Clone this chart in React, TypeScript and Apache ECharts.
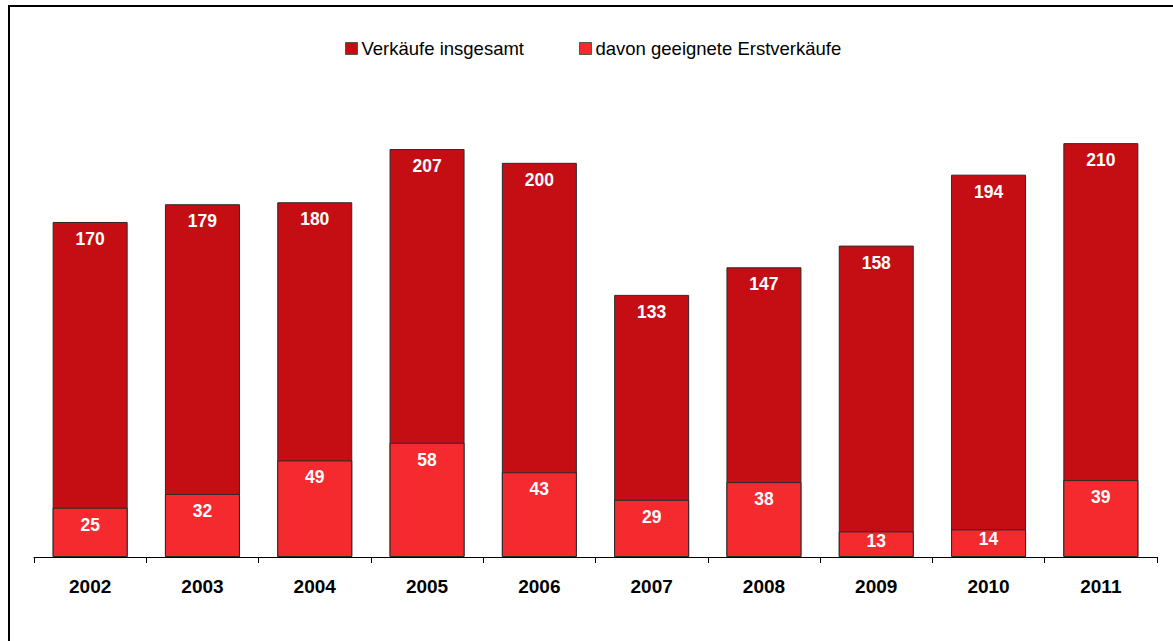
import React, { useEffect, useRef } from "react";
import * as echarts from "echarts";

const categories = ["2002", "2003", "2004", "2005", "2006", "2007", "2008", "2009", "2010", "2011"];
const totalSales = [170, 179, 180, 207, 200, 133, 147, 158, 194, 210];
const firstSales = [25, 32, 49, 58, 43, 29, 38, 13, 14, 39];
const seriesNames = ["Verkäufe insgesamt", "davon geeignete Erstverkäufe"];

const FONT = "'Liberation Sans', Arial, sans-serif";

export default function App() {
  const ref = useRef<HTMLDivElement>(null);
  useEffect(() => {
    if (!ref.current) return;
    const chart = echarts.init(ref.current, undefined, { renderer: "svg" });
    const labelBase = {
      show: true,
      position: "insideTop" as const,
      color: "#ffffff",
      fontFamily: FONT,
      fontWeight: "bold" as const,
      fontSize: 17.5,
    };
    chart.setOption({
      animation: false,
      backgroundColor: "#ffffff",
      textStyle: { fontFamily: FONT },
      graphic: [
        {
          type: "rect",
          shape: { x: 9, y: 6, width: 1300, height: 800 },
          style: { fill: "none", stroke: "#000000", lineWidth: 2 },
          silent: true,
        },
      ],
      legend: {
        left: 340,
        top: 34,
        itemWidth: 12,
        itemHeight: 12,
        itemGap: 55,
        icon: "rect",
        textStyle: { fontFamily: FONT, fontSize: 18.5, color: "#000000", padding: [0, 0, 0, -1] },
        data: seriesNames.map((n) => ({ name: n, itemStyle: { borderColor: "#555555", borderWidth: 1 } })),
      },
      grid: { left: 34, right: 16, top: 84, bottom: 84 },
      xAxis: {
        type: "category",
        data: categories,
        axisLine: { lineStyle: { color: "#000000", width: 1 } },
        axisTick: { show: true, length: 6, lineStyle: { color: "#000000" } },
        axisLabel: {
          color: "#000000",
          fontFamily: FONT,
          fontWeight: "bold",
          fontSize: 19,
          margin: 20,
        },
      },
      yAxis: {
        type: "value",
        min: 0,
        max: 240,
        show: false,
        splitLine: { show: false },
      },
      series: [
        {
          name: seriesNames[0],
          type: "bar",
          data: totalSales,
          barWidth: 75,
          barGap: "-100%",
          itemStyle: { color: "#C50E14", borderColor: "#2a2a2a", borderWidth: 1 },
          label: { ...labelBase, distance: 8 },
          z: 1,
        },
        {
          name: seriesNames[1],
          type: "bar",
          data: firstSales.map((v) =>
            v < 20 ? { value: v, label: { distance: 1 } } : v
          ),
          barWidth: 75,
          barGap: "-100%",
          itemStyle: { color: "#F52A2E", borderColor: "#2a2a2a", borderWidth: 1 },
          label: { ...labelBase, distance: 8 },
          z: 2,
        },
      ],
    });
    return () => chart.dispose();
  }, []);
  return (
    <div
      ref={ref}
      style={{ position: "fixed", left: 0, top: 0, width: 1173, height: 641 }}
    />
  );
}
